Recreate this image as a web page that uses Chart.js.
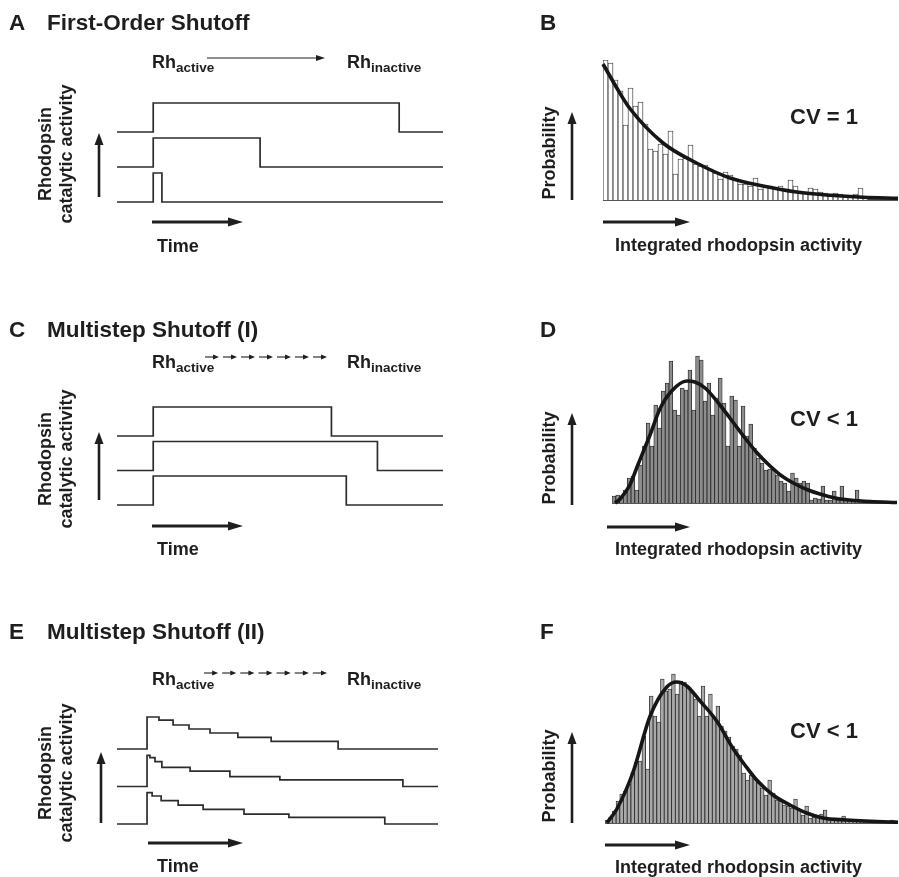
<!DOCTYPE html>
<html><head><meta charset="utf-8">
<script src="https://cdn.jsdelivr.net/npm/chart.js@4.4.1/dist/chart.umd.min.js"></script>
<style>
html,body{margin:0;padding:0;background:#fff;}
#wrap{position:relative;width:899px;height:877px;overflow:hidden;background:#fff;font-family:"Liberation Sans",Arial,Helvetica,sans-serif;font-weight:bold;color:#1e1e1e;}
#wrap canvas{position:absolute;left:0;top:0;}
.t{position:absolute;white-space:nowrap;}
.rot{position:absolute;white-space:nowrap;text-align:center;transform:translate(-50%,-50%) rotate(-90deg);}
</style></head><body><div id="wrap"></div>
<script>
// ---------------- DATA ----------------
// Panel A: first-order shutoff, shutoff time of each trace (top to bottom)
const shutoffA = [6.79, 2.95, 0.24];
// Panel C: multistep shutoff (I)
const shutoffC = [4.92, 6.19, 5.33];
// Panel E: multistep shutoff (II), step times and activity levels per trace
const eTimes1 = [0, 0.33, 0.72, 1.16, 1.74, 2.51, 3.43, 5.28];
const eLevels1 = [1, 0.9, 0.75, 0.625, 0.5, 0.365, 0.24, 0];
const eTimes2 = [0, 0.08, 0.22, 0.41, 1.19, 2.29, 3.67, 7.07];
const eLevels2 = [0.97, 0.9, 0.78, 0.6, 0.48, 0.31, 0.21, 0];
const eTimes3 = [0, 0.14, 0.39, 0.86, 1.55, 2.68, 3.92, 6.57];
const eLevels3 = [0.98, 0.875, 0.73, 0.59, 0.46, 0.31, 0.21, 0];

// Panel B histogram (CV = 1)
const histB = [140,137,120,109,75,112,94,98,76,51,49,56,46,69,26,41,42,55,36,34,35,31,27,21,28,25,21,16,16,14,22,11,14,14,12,14,11,20,14,9,8,12,11,8,7,6,7,6,5,4,6,12,2];
const fitBx = [0, 3, 5.3, 12, 18.7, 25.4, 32, 38.7, 45.4, 52, 59];
const fitBy = [136, 110, 92, 57, 37, 22, 14, 8, 4.7, 2.7, 1.7];

// Panel D histogram (CV < 1)
const histD = [7,8,5,13,25,27,13,38,57,80,57,98,75,112,120,142,93,88,115,113,133,93,147,143,102,120,88,105,125,100,57,107,103,57,97,67,79,
  55,45,40,33,34,33,28,22,20,12,30,25,20,22,20,3,5,4,17,3,3,12,3,17,5,3,2,13,2];
const fitDx = [0.8, 2.1, 4.7, 6.8, 10, 12.6, 15.7, 19.7, 21.8, 24.5, 28.4, 32.4, 35, 38.2, 41.6, 44.7, 48.2, 51.6, 54.7, 58.7, 62.6, 67.9, 75];
const fitDy = [0, 4, 18, 38, 68, 94, 112, 122, 121, 115, 98, 78, 65, 50, 37, 27, 19, 13, 9, 5, 3, 1.5, 0.5];

// Panel F histogram (CV < 1)
const histF = [3,6,12,22,29,32,39,51,61,62,87,54,127,107,101,144,132,134,149,129,142,141,136,131,124,107,137,107,129,106,117,97,92,86,77,74,68,
  50,43,48,44,40,35,28,43,30,23,22,18,17,15,24,13,8,17,5,6,7,9,13,3,3,3,3,7,3,2,2,2,2,
  1,2,1,1,1,2,1,3];
const fitFx = [0.5, 3.2, 7.6, 12.2, 16.7, 19.4, 22.1, 25.7, 30.2, 34.7, 37.8, 41, 45.4, 50, 54.5, 58.9, 65.3, 77, 79.2];
const fitFy = [0, 14, 51, 107, 136, 141, 137, 122, 102, 74, 58, 43, 28, 18, 10, 5, 3, 1, 0.8];

// ---------------- RENDERING ----------------
const W = 899, H = 877;
const wrap = document.getElementById('wrap');
const INK = '#1e1e1e';

function drawArrow(ctx, a) {
  const dx = a.x2 - a.x1, dy = a.y2 - a.y1;
  const len = Math.hypot(dx, dy), ux = dx / len, uy = dy / len;
  const bx = a.x2 - ux * a.hl, by = a.y2 - uy * a.hl;
  ctx.save();
  ctx.strokeStyle = INK; ctx.fillStyle = INK; ctx.lineWidth = a.lw;
  ctx.beginPath(); ctx.moveTo(a.x1, a.y1); ctx.lineTo(bx + ux * 1, by + uy * 1); ctx.stroke();
  ctx.beginPath();
  ctx.moveTo(a.x2, a.y2);
  ctx.lineTo(bx - uy * a.hw, by + ux * a.hw);
  ctx.lineTo(bx + uy * a.hw, by - ux * a.hw);
  ctx.closePath(); ctx.fill();
  ctx.restore();
}
function drawChain(ctx, c) {
  const seg = (c.x2 - c.x1) / c.n;
  for (let i = 0; i < c.n; i++) {
    const x0 = c.x1 + i * seg;
    drawArrow(ctx, {x1: x0, y1: c.y, x2: x0 + seg - 4, y2: c.y, lw: 1.1, hl: 6, hw: 2.6});
  }
}

const decor = {
  id: 'decor',
  beforeDatasetsDraw(chart, args, opts) {
    if (opts.baseline) {
      const ctx = chart.ctx, y = chart.scales.y.getPixelForValue(0);
      ctx.save(); ctx.strokeStyle = INK; ctx.lineWidth = 1.6;
      ctx.beginPath(); ctx.moveTo(chart.chartArea.left, y); ctx.lineTo(chart.chartArea.right, y); ctx.stroke();
      ctx.restore();
    }
  },
  afterDraw(chart, args, opts) {
    const ctx = chart.ctx;
    (opts.arrows || []).forEach(a => drawArrow(ctx, a));
    (opts.chains || []).forEach(c => drawChain(ctx, c));
  }
};

function makeCanvas() {
  const c = document.createElement('canvas');
  c.width = W; c.height = H;
  c.style.width = W + 'px'; c.style.height = H + 'px';
  wrap.appendChild(c);
  return c;
}

function baseOptions(area, xmin, xmax, ymin, ymax, decorOpts) {
  return {
    responsive: false, animation: false, devicePixelRatio: 1,
    layout: {padding: {left: area.left, right: W - area.right, top: area.top, bottom: H - area.bottom}},
    scales: {
      x: {type: 'linear', display: false, min: xmin, max: xmax, offset: false},
      y: {type: 'linear', display: false, min: ymin, max: ymax}
    },
    plugins: {legend: {display: false}, tooltip: {enabled: false}, decor: decorOpts},
    events: []
  };
}

// step-trace panel
function tracePanel(traces, area, xmin, xmax, ampPx, gapPx, decorOpts) {
  const gap = gapPx / ampPx;
  const ymax = (2 * gapPx + ampPx) / ampPx;
  const datasets = traces.map((tr, k) => {
    const off = (traces.length - 1 - k) * gap;
    const pts = [{x: xmin, y: off}];
    tr.times.forEach((t, i) => pts.push({x: t, y: off + tr.levels[i]}));
    pts.push({x: xmax, y: off});
    return {data: pts, stepped: 'before', borderColor: '#2c2c2c', borderWidth: 1.7,
            pointRadius: 0, fill: false, clip: false, tension: 0};
  });
  new Chart(makeCanvas(), {type: 'line', data: {datasets},
    options: baseOptions(area, xmin, xmax, 0, ymax, decorOpts), plugins: [decor]});
}

// histogram panel
function histPanel(hist, fx, fy, nBins, yMax, area, fill, decorOpts) {
  new Chart(makeCanvas(), {
    type: 'bar',
    data: {datasets: [
      {type: 'line', data: fx.map((x, i) => ({x, y: fy[i]})), borderColor: '#161616', borderWidth: 3.6,
       pointRadius: 0, cubicInterpolationMode: 'monotone', fill: false, order: 0, clip: false},
      {type: 'bar', data: hist.map((v, i) => ({x: i + 0.5, y: v})), backgroundColor: fill,
       borderColor: '#222', borderWidth: 0.8, barPercentage: 1, categoryPercentage: 1, order: 1}
    ]},
    options: baseOptions(area, 0, nBins, 0, yMax, Object.assign({baseline: true}, decorOpts)),
    plugins: [decor]
  });
}

// Arrow styles
const vArrow = (x, y1, y2) => ({x1: x, y1, x2: x, y2, lw: 2.6, hl: 12, hw: 4.5});
const hArrow = (x1, x2, y) => ({x1, y1: y, x2, y2: y, lw: 3, hl: 15, hw: 4.5});

// A
tracePanel(shutoffA.map(s => ({times: [0, s], levels: [1, 0]})),
  {left: 117, right: 443, top: 103, bottom: 202}, -1, 8, 29, 35,
  {arrows: [vArrow(99, 197, 133), hArrow(152, 243, 222),
            {x1: 207, y1: 58, x2: 325, y2: 58, lw: 1.1, hl: 9, hw: 3}]});
// C
tracePanel(shutoffC.map(s => ({times: [0, s], levels: [1, 0]})),
  {left: 117, right: 443, top: 407, bottom: 505}, -1, 8, 29, 34.5,
  {arrows: [vArrow(99, 500, 432), hArrow(152, 243, 526)],
   chains: [{x1: 205, x2: 331, y: 357, n: 7}]});
// E
tracePanel([{times: eTimes1, levels: eLevels1}, {times: eTimes2, levels: eLevels2}, {times: eTimes3, levels: eLevels3}],
  {left: 117, right: 438, top: 717, bottom: 824}, -0.83, 8.04, 32, 37.5,
  {arrows: [vArrow(101, 823, 752), hArrow(148, 243, 843)],
   chains: [{x1: 204, x2: 331, y: 673, n: 7}]});

// B
histPanel(histB, fitBx, fitBy, 59, 140, {left: 603, right: 898, top: 60, bottom: 200}, '#ffffff',
  {arrows: [vArrow(572, 200, 112), hArrow(603, 690, 222)]});
// D
histPanel(histD, fitDx, fitDy, 75, 150, {left: 612, right: 897, top: 353, bottom: 503}, '#8d8d8d',
  {arrows: [vArrow(572, 505, 413), hArrow(607, 690, 527)]});
// F
histPanel(histF, fitFx, fitFy, 79.2, 150, {left: 605, right: 898, top: 673, bottom: 823}, '#a9a9a9',
  {arrows: [vArrow(572, 823, 732), hArrow(605, 690, 845)]});

// ---------------- TEXT ----------------
function txt(html, x, baseline, size) {
  const d = document.createElement('div');
  d.className = 't';
  d.style.left = x + 'px';
  d.style.fontSize = size + 'px';
  d.style.lineHeight = size + 'px';
  d.style.top = (baseline - 0.8465 * size) + 'px';
  d.innerHTML = html;
  wrap.appendChild(d);
}
function rot(html, cx, cy, size, lh) {
  const d = document.createElement('div');
  d.className = 'rot';
  d.style.left = cx + 'px'; d.style.top = cy + 'px';
  d.style.fontSize = size + 'px'; d.style.lineHeight = lh + 'px';
  d.innerHTML = html;
  wrap.appendChild(d);
}
const SUB = t => '<span style="font-size:13.5px;position:relative;top:4px">' + t + '</span>';
const TS = 22.5, LS = 18;

// titles
txt('A', 9, 31, TS); txt('First-Order Shutoff', 47, 31, TS);
txt('B', 540, 31, TS);
txt('C', 9, 338, TS); txt('Multistep Shutoff (I)', 47, 338, TS);
txt('D', 540, 338, TS);
txt('E', 9, 640, TS); txt('Multistep Shutoff (II)', 47, 640, TS);
txt('F', 540, 640, TS);

// Rh labels
[68, 368, 685].forEach(b => {
  txt('Rh' + SUB('active'), 152, b, LS);
  txt('Rh' + SUB('inactive'), 347, b, LS);
});

// y labels left
[154, 459, 773].forEach(cy => rot('Rhodopsin<br>catalytic activity', 56, cy, LS, 21));
// Time
[252, 555, 872].forEach(b => txt('Time', 157, b, LS));
// Probability
[153, 458, 776].forEach(cy => rot('Probability', 549, cy, LS, 20));
// Integrated rhodopsin activity
[251, 555, 873].forEach(b => txt('Integrated rhodopsin activity', 615, b, LS));
// CV
txt('CV = 1', 790, 125, 22);
txt('CV &lt; 1', 790, 427, 22);
txt('CV &lt; 1', 790, 739, 22);
</script>
</body></html>
